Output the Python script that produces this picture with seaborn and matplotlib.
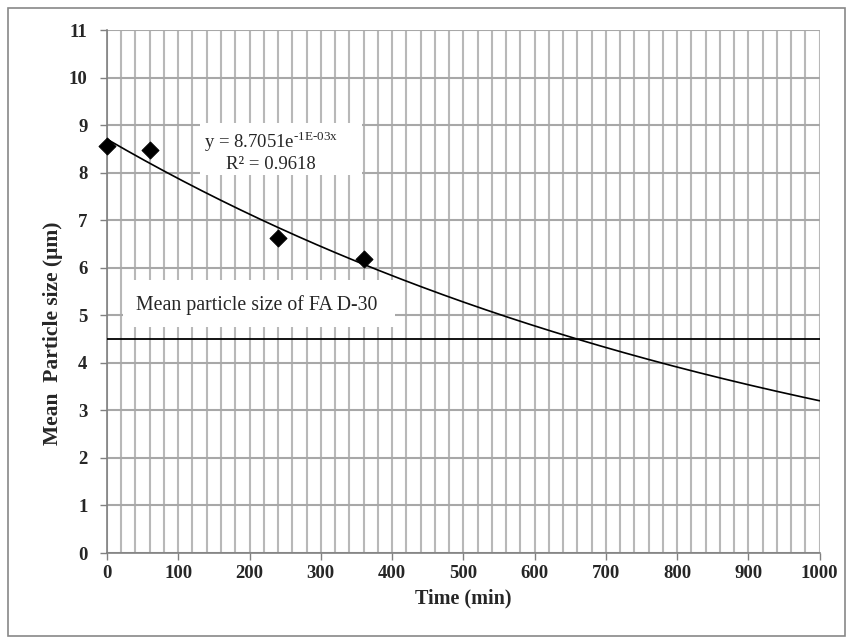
import numpy as np
import matplotlib
matplotlib.use("Agg")
import matplotlib.pyplot as plt
import seaborn as sns
from matplotlib.patches import Rectangle

sns.set_theme(style="white")
plt.rcParams['font.family'] = ['Liberation Serif', 'DejaVu Serif']
plt.rcParams['mathtext.fontset'] = 'custom'
plt.rcParams['mathtext.rm'] = 'Liberation Serif'

time_min = [0, 60, 240, 360]
size_um = [8.57, 8.48, 6.62, 6.18]
fit_a = 8.7051
fit_b = -1e-3
fad30_size = 4.5
x_ticks = list(range(0, 1001, 100))
y_ticks = list(range(0, 12))

fig = plt.figure(figsize=(8.53, 6.44), dpi=100)
fig.patches.append(Rectangle((0.009, 0.012), 0.982, 0.976, transform=fig.transFigure,
                             fill=False, edgecolor='#888888', linewidth=1.2))
ax = fig.add_axes([0.1254, 0.1413, 0.8355, 0.812])

# gridlines
for xv in range(0, 1001, 20):
    ax.axvline(xv, color='#b8b8b8', linewidth=1.5, zorder=0)
for yv in y_ticks:
    ax.axhline(yv, color='#a8a8a8', linewidth=1.5, zorder=0)

xs = np.linspace(0, 1000, 300)
fit_y = fit_a * np.exp(fit_b * xs)
sns.lineplot(x=xs, y=fit_y, color='black', linewidth=1.2, ax=ax, zorder=3)
ax.axhline(fad30_size, color='black', linewidth=1.3, zorder=3)
sns.scatterplot(x=time_min, y=size_um, marker='D', s=75, color='black', edgecolor='black',
                ax=ax, zorder=4, clip_on=False)

ax.set_xlim(0, 1000)
ax.set_ylim(0, 11)
ax.set_xticks(x_ticks)
ax.set_yticks(y_ticks)
ax.tick_params(axis='both', labelsize=13.5, length=5, width=1, color='#808080',
               direction='out', bottom=True, left=True)
ax.tick_params(axis='y', pad=9)
for lab in ax.get_xticklabels() + ax.get_yticklabels():
    lab.set_fontweight('bold')
for s in ['top', 'right']:
    ax.spines[s].set_visible(False)
for s in ['left', 'bottom']:
    ax.spines[s].set_color('#808080')
    ax.spines[s].set_linewidth(1.2)

ax.set_xlabel('Time (min)', fontsize=14.5, fontweight='bold', labelpad=5)
ax.set_ylabel('Mean  Particle size (\u03bcm)', fontsize=15.5, fontweight='bold')
ax.yaxis.set_label_coords(-0.062, 0.42)

# equation box
ax.add_patch(Rectangle((130, 7.96), 228, 1.08, facecolor='white', edgecolor='none', zorder=4.5))
ax.text(230, 8.46, r'y = 8.7051e$^{\mathregular{\text{-1E-03x}}}$' + '\nR\u00b2 = 0.9618',
        ha='center', va='center', fontsize=13.5, linespacing=1.15, zorder=5)
# FA D-30 label box
ax.add_patch(Rectangle((22, 4.76), 382, 0.99, facecolor='white', edgecolor='none', zorder=4.5))
ax.text(210, 5.22, 'Mean particle size of FA D-30', ha='center', va='center',
        fontsize=14.3, zorder=5)

fig.savefig('out.png', dpi=100)
